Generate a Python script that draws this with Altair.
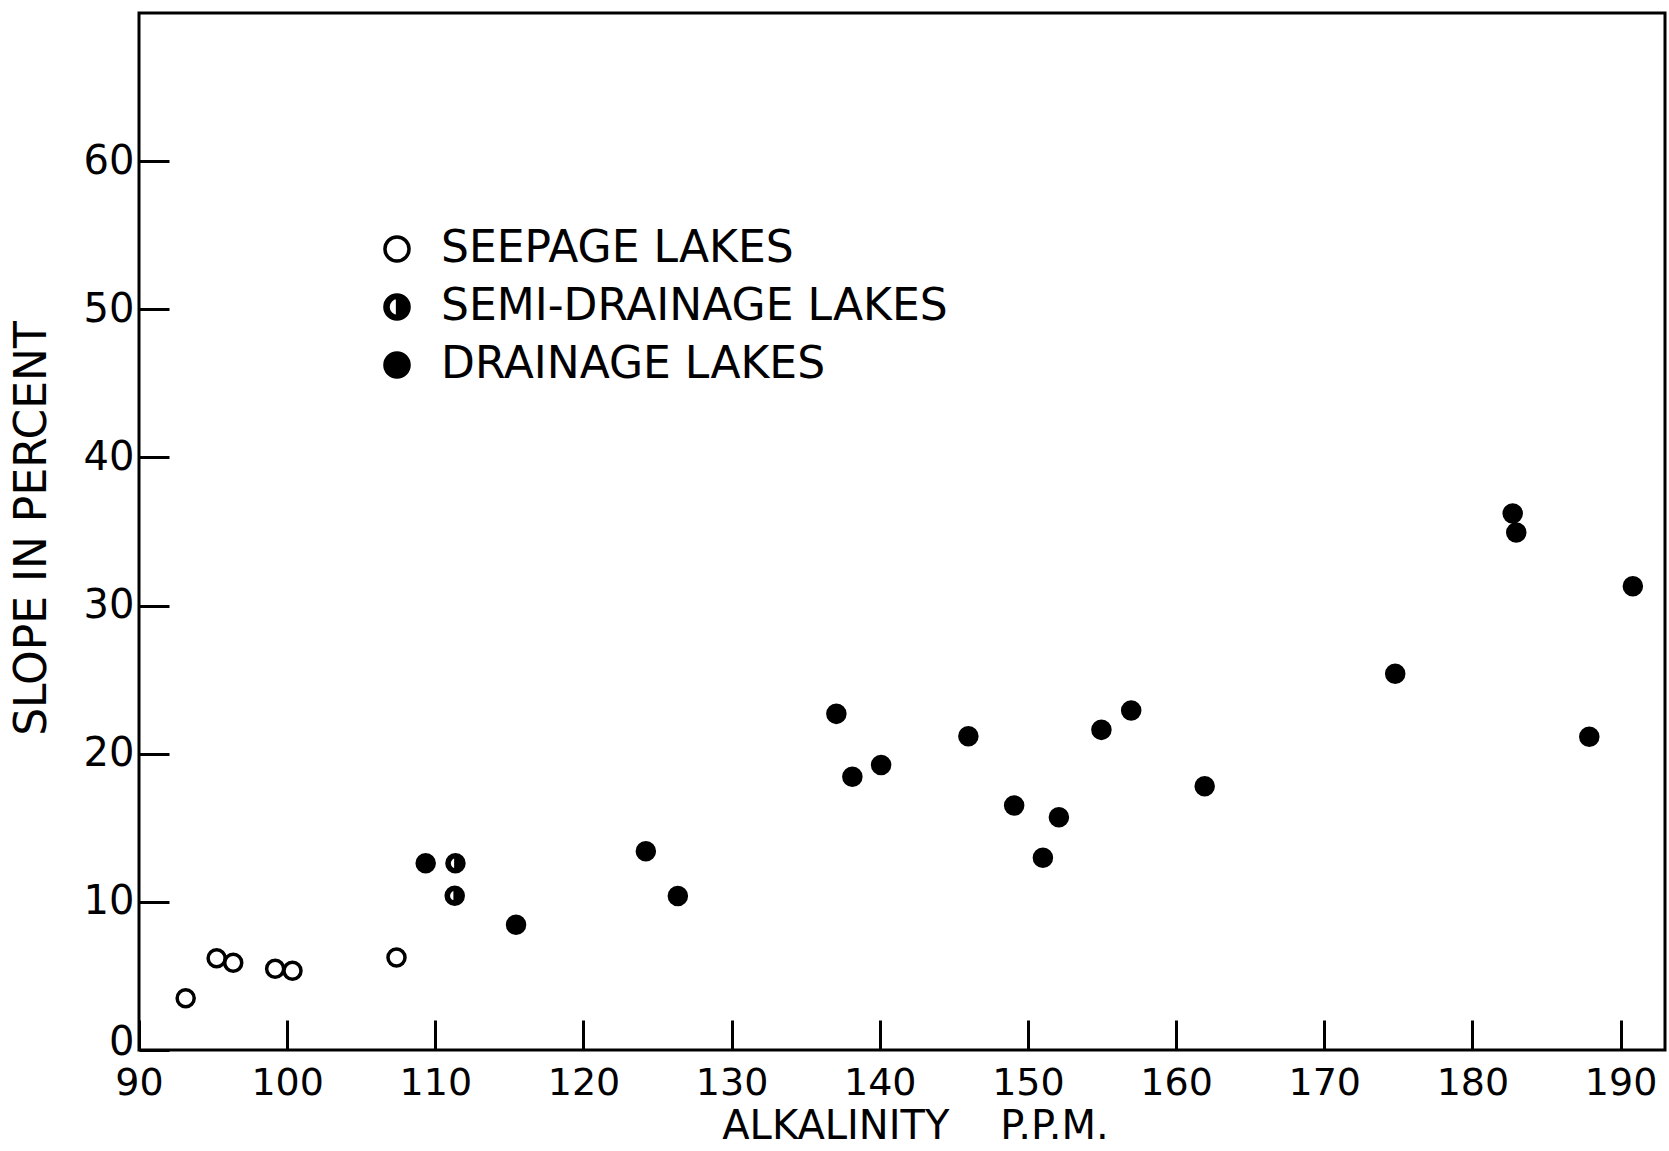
import altair as alt
import pandas as pd

# ---- data ----
seep_x = [93.15, 95.24, 96.36, 99.19, 100.36, 107.38]
seep_y = [3.49, 6.19, 5.89, 5.49, 5.35, 6.25]
semi_x = [111.36, 111.31]
semi_y = [12.6, 10.41]
drain_x = [109.35, 115.45, 124.21, 126.37, 137.07, 138.15, 140.09, 145.98, 149.07,
           151.01, 152.09, 154.96, 156.97, 161.93, 174.79, 182.72, 182.96, 187.89, 190.83]
drain_y = [12.6, 8.45, 13.41, 10.39, 22.69, 18.44, 19.24, 21.18, 16.50,
           12.98, 15.71, 21.61, 22.91, 17.80, 25.40, 36.21, 34.93, 21.14, 31.30]

categories = ["SEEPAGE LAKES", "SEMI-DRAINAGE LAKES", "DRAINAGE LAKES"]
x_ticks = [90, 100, 110, 120, 130, 140, 150, 160, 170, 180, 190]
y_ticks = [0, 10, 20, 30, 40, 50, 60]

rows = []
for cat, xs, ys in zip(categories, [seep_x, semi_x, drain_x], [seep_y, semi_y, drain_y]):
    for a, b in zip(xs, ys):
        rows.append({"alk": a, "slope": b, "type": cat})
df = pd.DataFrame(rows)

FONT = "DejaVu Sans"
# half-filled circle: full disc with a left half-disc hole (opposite winding)
SEMI = ("M 1 0 A 1 1 0 1 1 -1 0 A 1 1 0 1 1 1 0 Z "
        "M 0.05 -0.8 A 0.8 0.8 0 0 0 0.05 0.8 Z")

legend_def = alt.Legend(
    title=None, orient="none", legendX=236, legendY=214,
    symbolStrokeColor="black", symbolStrokeWidth=3.5,
)

chart = alt.Chart(df).mark_point(
    filled=True, size=290, strokeWidth=3.5, opacity=1
).encode(
    x=alt.X("alk:Q", scale=alt.Scale(domain=[90, 193], nice=False, zero=False),
            axis=alt.Axis(values=x_ticks, title="ALKALINITY\u00a0\u00a0\u00a0 P.P.M.",
                          titleX=776, titleY=106, titleAlign="center",
                          titleBaseline="middle", labelPadding=14,
                          labelBaseline="top", labelFontSize=38,
                          titleFontSize=40)),
    y=alt.Y("slope:Q", scale=alt.Scale(domain=[0, 70], nice=False),
            axis=alt.Axis(values=y_ticks, title="SLOPE IN PERCENT",
                          titleX=-137, titleY=515, titleAngle=270,
                          titleAlign="center", titleBaseline="middle",
                          labelPadding=5, labelFontSize=40, titleFontSize=44,
                          labelOffset=alt.ExprRef(expr="datum.value == 0 ? -8 : 0"))),
    shape=alt.Shape("type:N", scale=alt.Scale(domain=categories,
                                              range=["circle", SEMI, "circle"]),
                    legend=legend_def),
    fill=alt.Fill("type:N", scale=alt.Scale(domain=categories,
                                            range=["white", "black", "black"]),
                  legend=legend_def),
    stroke=alt.Stroke("type:N", scale=alt.Scale(domain=categories,
                                                range=["black", "black", "black"]),
                      legend=legend_def),
).properties(
    width=1526, height=1037,
    autosize=alt.AutoSizeParams(type="none"),
    padding={"left": 139, "top": 13, "right": 4, "bottom": 101},
    background="white",
).configure_view(
    stroke="black", strokeWidth=3
).configure_axis(
    domain=False, grid=False, offset=-30, tickSize=30, tickWidth=3,
    tickColor="black", labelColor="black", labelFont=FONT,
    labelFontWeight="normal", labelFlush=False, labelOverlap=False,
    titleColor="black", titleFont=FONT, titleFontWeight="normal",
).configure_legend(
    labelFont=FONT, labelFontSize=44, labelColor="black", labelLimit=0,
    symbolSize=580, rowPadding=14, labelOffset=22, padding=0,
)

chart.save("out.html", embed_options={"renderer": "svg", "actions": False})
